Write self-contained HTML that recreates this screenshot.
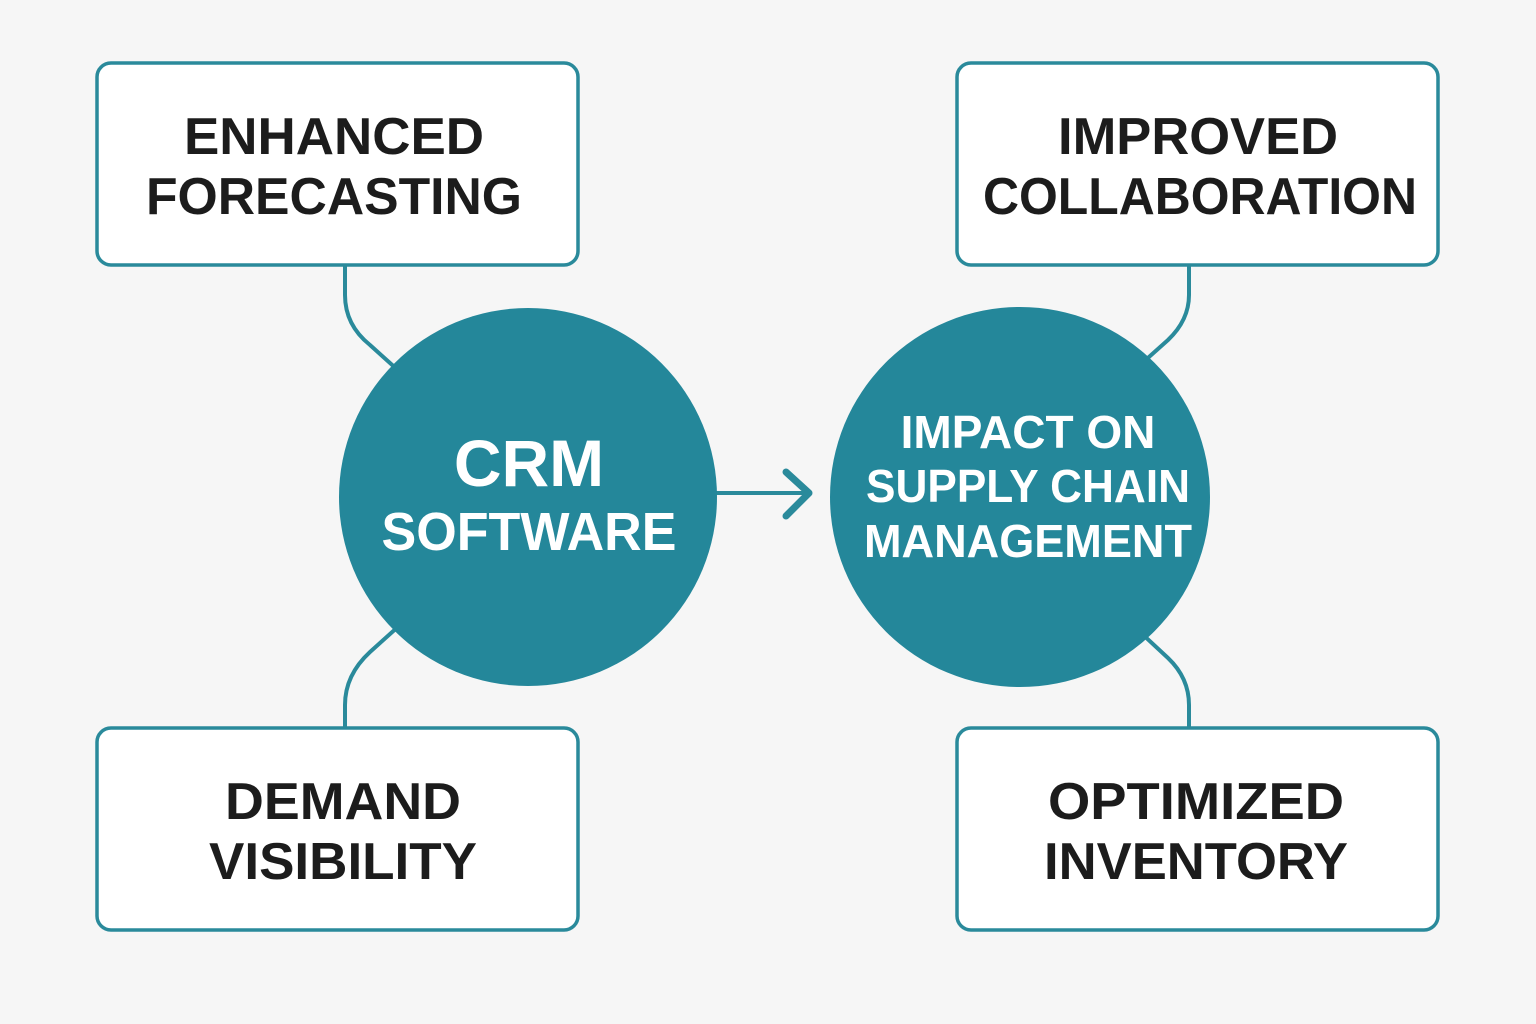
<!DOCTYPE html>
<html><head><meta charset="utf-8"><style>
html,body{margin:0;padding:0;background:#f6f6f6;}
svg{display:block}
text{font-family:"Liberation Sans","DejaVu Sans",sans-serif;font-weight:bold;text-anchor:middle}
</style></head><body>
<svg width="1536" height="1024" viewBox="0 0 1536 1024" xmlns="http://www.w3.org/2000/svg">
<rect width="1536" height="1024" fill="#f6f6f6"/>
<g fill="none" stroke="#2a8a9b" stroke-width="4" stroke-linecap="round" stroke-linejoin="round">
<path d="M345 265 V295 Q345 325 370 345 L400 372"/>
<path d="M400 625 L370 652 Q345 675 345 705 V728"/>
<path d="M1189 265 V295 Q1189 320 1168 340 L1140 365"/>
<path d="M1140 632 L1168 658 Q1189 678 1189 705 V728"/>
<path d="M715 493 H808"/>
<path d="M786 472 L809 493 L786 516" stroke-width="7"/>
</g>
<g fill="#ffffff" stroke="#2a8a9b" stroke-width="3.5">
<rect x="97" y="63" width="481" height="202" rx="14"/>
<rect x="957" y="63" width="481" height="202" rx="14"/>
<rect x="97" y="728" width="481" height="202" rx="14"/>
<rect x="957" y="728" width="481" height="202" rx="14"/>
</g>
<circle cx="528" cy="497" r="189" fill="#24879a"/>
<circle cx="1020" cy="497" r="190" fill="#24879a"/>
<g fill="#1c1c1c" font-size="52">
<text x="334" y="154" textLength="300" lengthAdjust="spacingAndGlyphs">ENHANCED</text>
<text x="334" y="214" textLength="376" lengthAdjust="spacingAndGlyphs">FORECASTING</text>
<text x="1198" y="154" textLength="280" lengthAdjust="spacingAndGlyphs">IMPROVED</text>
<text x="1200" y="214" textLength="434" lengthAdjust="spacingAndGlyphs">COLLABORATION</text>
<text x="343" y="819" textLength="236" lengthAdjust="spacingAndGlyphs">DEMAND</text>
<text x="343" y="879" textLength="268" lengthAdjust="spacingAndGlyphs">VISIBILITY</text>
<text x="1196" y="819" textLength="296" lengthAdjust="spacingAndGlyphs">OPTIMIZED</text>
<text x="1196" y="879" textLength="304" lengthAdjust="spacingAndGlyphs">INVENTORY</text>
</g>
<g fill="#ffffff">
<text x="529" y="486" font-size="66">CRM</text>
<text x="529" y="550" font-size="54" textLength="295" lengthAdjust="spacingAndGlyphs">SOFTWARE</text>
<text x="1028" y="448" font-size="46">IMPACT ON</text>
<text x="1028" y="502" font-size="46" textLength="324" lengthAdjust="spacingAndGlyphs">SUPPLY CHAIN</text>
<text x="1028" y="557" font-size="46" textLength="328" lengthAdjust="spacingAndGlyphs">MANAGEMENT</text>
</g>
</svg>
</body></html>
